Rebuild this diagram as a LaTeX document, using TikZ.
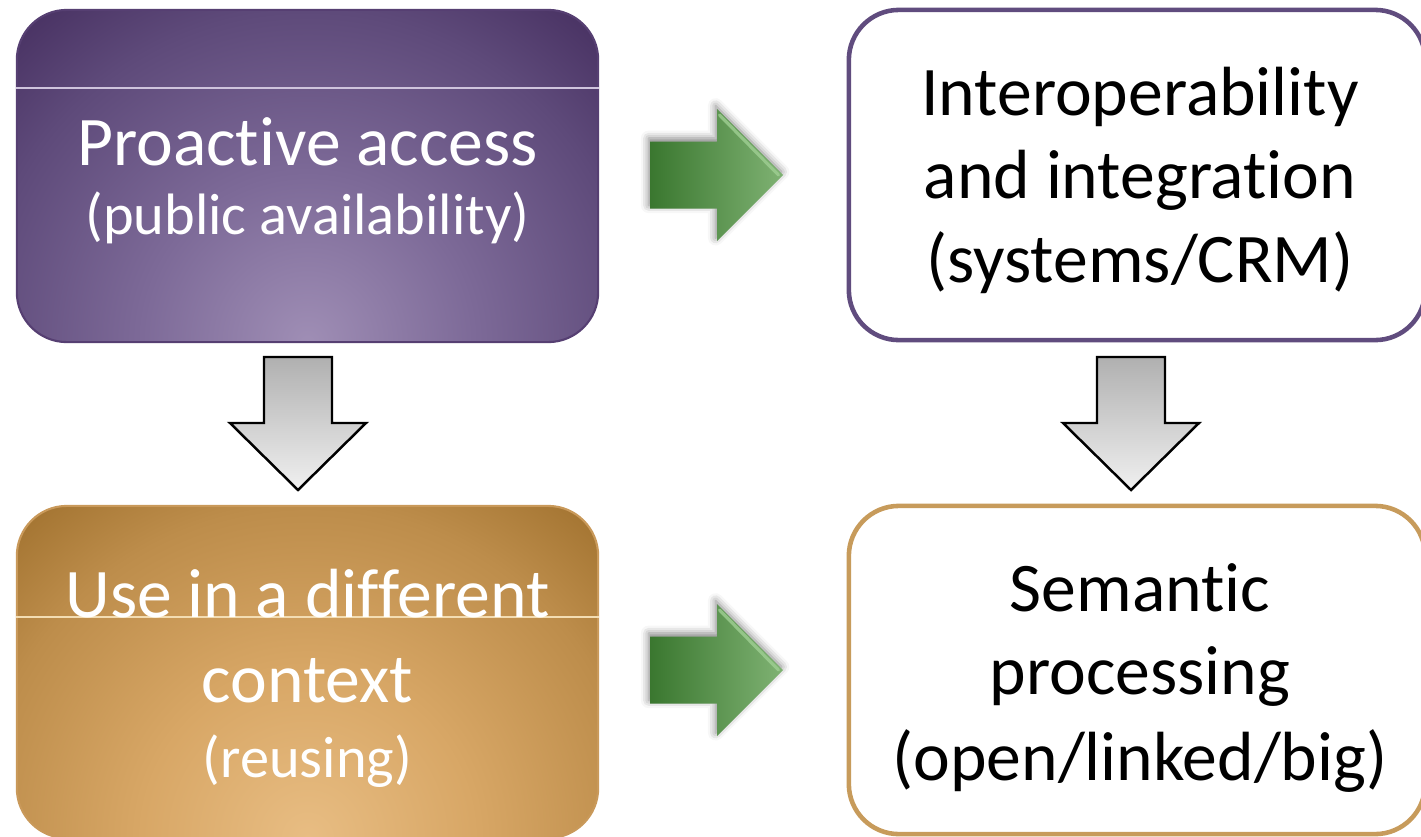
\documentclass[tikz,border=0pt]{standalone}
\usepackage{fontspec}
\setmainfont{Carlito}[Ligatures=NoCommon]
\usetikzlibrary{shadows.blur}

% palette
\definecolor{pglowA}{HTML}{9F8EB5}
\definecolor{pglowB}{HTML}{7D6A98}
\definecolor{pglowC}{HTML}{5E4A7A}
\definecolor{pglowD}{HTML}{462F60}
\definecolor{pedge}{HTML}{563F72}
\definecolor{pframe}{HTML}{604C7E}
\definecolor{pline}{HTML}{CFC4DD}
\definecolor{oglowA}{HTML}{E8BD83}
\definecolor{oglowB}{HTML}{D8A766}
\definecolor{oglowC}{HTML}{BD8D4B}
\definecolor{oglowD}{HTML}{A0712E}
\definecolor{oedge}{HTML}{C9995A}
\definecolor{oframe}{HTML}{C79B5B}
\definecolor{oline}{HTML}{F3DDB3}
\definecolor{grnL}{HTML}{3A772F}
\definecolor{grnR}{HTML}{7FB273}
\definecolor{grnBevel}{HTML}{9FCF93}
\definecolor{gryT}{HTML}{B0B0B0}
\definecolor{gryB}{HTML}{F0F0F0}

% soft glow rising from the bottom edge of the filled boxes
\pgfdeclareradialshading{purpleglow}{\pgfpointorigin}{%
  color(0bp)=(pglowA); color(9bp)=(pglowB); color(18bp)=(pglowC);
  color(24bp)=(pglowD); color(50bp)=(pglowD)}
\pgfdeclareradialshading{ochreglow}{\pgfpointorigin}{%
  color(0bp)=(oglowA); color(9bp)=(oglowB); color(18bp)=(oglowC);
  color(24bp)=(oglowD); color(50bp)=(oglowD)}

\tikzset{
  card/.style={rectangle, rounded corners=0.5cm, inner sep=0pt,
    minimum width=5.81cm, minimum height=3.32cm},
  mainline/.style={anchor=base, inner sep=0pt, font=\fontsize{19.8}{24}\selectfont},
  subline/.style={anchor=base, inner sep=0pt, font=\fontsize{16.6}{20}\selectfont},
  greenarrow/.pic={
    \path[blur shadow={shadow xshift=-0.4pt, shadow yshift=0.9pt,
          shadow blur radius=2.2pt, shadow opacity=50},
          left color=grnL, right color=grnR]
      (0,-33.5) -- (67,-33.5) -- (67,-66) -- (133,0) -- (67,66)
      -- (67,33.5) -- (0,33.5) -- cycle;
    \draw[grnBevel, line width=0.9pt, opacity=0.8, line cap=round]
      (69.5,-60) -- (128.5,0);
    \coordinate (-tip) at (133,0);
  },
  grayarrow/.pic={
    \draw[line width=0.7pt, miter limit=10, top color=gryT, bottom color=gryB]
      (-34,0) -- (34,0) -- (34,66) -- (68,66) -- (0,133) -- (-68,66)
      -- (-34,66) -- cycle;
    \coordinate (-tip) at (0,133);
  }
}

\begin{document}
\begin{tikzpicture}[x=0.01cm, y=-0.01cm]
\useasboundingbox (0,0) rectangle (1421,836);

% filled cards
\node[card, draw=pedge, line width=0.6pt, fill=pglowD,
      path picture={\shade[shading=purpleglow]
        (path picture bounding box.south) circle (4.6cm);}]
  (pa) at (307.5,176) {};
\draw[pline, line width=0.35pt] (pa.west |- 0,88) -- (pa.east |- 0,88);

\node[card, draw=oedge, line width=0.6pt, fill=oglowD,
      path picture={\shade[shading=ochreglow]
        (path picture bounding box.south) circle (4.6cm);}]
  (uc) at (307.5,672) {};
\draw[oline, line width=0.35pt] (uc.west |- 0,617) -- (uc.east |- 0,617);

% outlined cards
\node[card, minimum width=5.76cm, minimum height=3.30cm,
      draw=pframe, line width=1.3pt, fill=white] (ii) at (1137,175) {};
\node[card, minimum width=5.76cm, minimum height=3.28cm,
      draw=oframe, line width=1.3pt, fill=white] (sp) at (1137,670) {};

% labels
\node[mainline, text=white] (pa-1) at (307.5,165) {Proactive access};
\node[subline,  text=white] (pa-2) at (307.5,234) {(public availability)};

\node[mainline] (ii-1) at (1140,115) {Interoperability};
\node[mainline] (ii-2) at (1140,198) {and integration};
\node[mainline] (ii-3) at (1140,282) {(systems/CRM)};

\node[mainline, text=white] (uc-1) at (307.5,617) {Use in a different};
\node[mainline, text=white] (uc-2) at (307.5,702) {context};
\node[subline,  text=white] (uc-3) at (307.5,777) {(reusing)};

\node[mainline] (sp-1) at (1140,611) {Semantic};
\node[mainline] (sp-2) at (1140,694) {processing};
\node[mainline] (sp-3) at (1140,780) {(open/linked/big)};

% block arrows between the cards
\pic (ga1) at (650,175) {greenarrow};
\pic (ga2) at (650,670) {greenarrow};
\pic (da1) at (298,357) {grayarrow};
\pic (da2) at (1131,357) {grayarrow};
\end{tikzpicture}
\end{document}
